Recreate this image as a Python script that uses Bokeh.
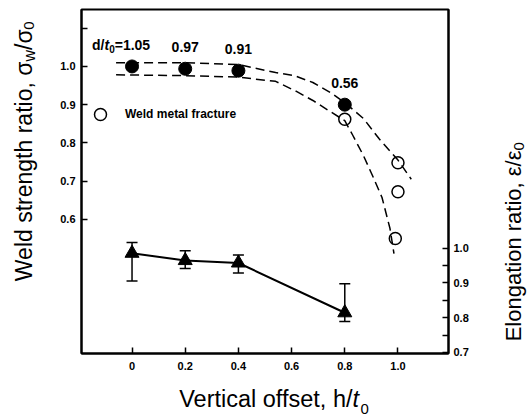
import math
from bokeh.plotting import figure
from bokeh.layouts import row, column
from bokeh.models import (Range1d, LinearAxis, FixedTicker, Label, Whisker, TeeHead,
                          ColumnDataSource, Legend, LegendItem)
from bokeh.embed import file_html
from bokeh.resources import INLINE
from bokeh.core.properties import value

FONT = "Liberation Sans"

# ---------------- data ----------------
offset = [0.0, 0.2, 0.4, 0.8]
strength = [1.0, 0.994, 0.989, 0.90]
d_ratio = ["1.05", "0.97", "0.91", "0.56"]

fracture_x = [0.8, 1.0, 1.0, 0.99]
fracture_y = [0.862, 0.748, 0.672, 0.55]

upper_x = [-0.06, 0.2, 0.4, 0.54, 0.61, 0.68, 0.75, 0.8, 0.87, 0.93, 1.0, 1.05]
upper_y = [1.01, 1.01, 1.005, 0.984, 0.976, 0.958, 0.93, 0.905, 0.864, 0.81, 0.755, 0.705]
lower_x = [-0.06, 0.2, 0.4, 0.54, 0.62, 0.68, 0.75, 0.8, 0.83, 0.87, 0.907, 0.94, 0.97, 0.985]
lower_y = [0.978, 0.976, 0.972, 0.961, 0.934, 0.911, 0.88, 0.858, 0.82, 0.767, 0.71, 0.657, 0.576, 0.51]

elong = [0.985, 0.964, 0.957, 0.814]
elong_hi = [1.016, 0.992, 0.980, 0.897]
elong_lo = [0.905, 0.941, 0.928, 0.789]

x_ticks = [0, 0.2, 0.4, 0.6, 0.8, 1.0]
x_tick_labels = ["0", "0.2", "0.4", "0.6", "0.8", "1.0"]
left_ticks = [0.6, 0.7, 0.8, 0.9, 1.0, 1.1]
left_tick_labels = ["0.6", "0.7", "0.8", "0.9", "1.0", ""]
right_ticks = [0.7, 0.8, 0.9, 1.0]
right_tick_labels = ["0.7", "0.8", "0.9", "1.0"]
right_minor = [0.75, 0.85, 0.95]

# ---------------- main figure ----------------
p = figure(width=440, height=383,
           x_range=Range1d(-0.19, 1.19), y_range=Range1d(0.249, 1.149),
           output_backend="svg", toolbar_location=None,
           min_border_left=33, min_border_right=40, min_border_top=9, min_border_bottom=30,
           background_fill_color="white", border_fill_color="white")
p.extra_y_ranges = {"elong": Range1d(0.697, 1.685)}
p.xgrid.visible = False
p.ygrid.visible = False
p.outline_line_color = "black"
p.outline_line_width = 2


def style_axis(ax):
    ax.axis_line_color = "black"
    ax.axis_line_width = 2
    ax.major_tick_in = 6
    ax.major_tick_out = 0
    ax.minor_tick_in = 6
    ax.minor_tick_out = 0
    ax.major_tick_line_width = 1.5
    ax.minor_tick_line_width = 1.5
    ax.major_label_text_font = FONT
    ax.major_label_text_font_size = "11px"
    ax.major_label_text_font_style = "bold"
    ax.major_label_text_color = "black"


xa = p.xaxis[0]
style_axis(xa)
xa.ticker = FixedTicker(ticks=x_ticks, minor_ticks=[])
xa.major_label_overrides = {t: s for t, s in zip(x_ticks, x_tick_labels)}
xa.major_label_standoff = 8

ya = p.yaxis[0]
style_axis(ya)
ya.ticker = FixedTicker(ticks=left_ticks, minor_ticks=[])
ya.major_label_overrides = {t: s for t, s in zip(left_ticks, left_tick_labels)}
ya.major_label_standoff = 6

ra = LinearAxis(y_range_name="elong")
style_axis(ra)
ra.ticker = FixedTicker(ticks=right_ticks, minor_ticks=right_minor)
ra.major_label_overrides = {t: s for t, s in zip(right_ticks, right_tick_labels)}
ra.major_label_standoff = 5
p.add_layout(ra, "right")

# ---------------- strength data ----------------
dash = dict(line_color="black", line_width=1.5, line_dash="9 5")
p.line(upper_x, upper_y, **dash)
p.line(lower_x, lower_y, **dash)

r_open = p.scatter(fracture_x, fracture_y, marker="circle", size=12,
                   fill_alpha=0, line_color="black", line_width=1.5)
p.scatter(offset, strength, marker="circle", size=13,
          fill_color="black", line_color="black")

# d/t0 annotations
p.text(x=offset[1:], y=strength[1:], text=d_ratio[1:],
       text_align="center", text_baseline="middle", y_offset=-22,
       text_font=value(FONT), text_font_size="14px", text_font_style="bold",
       text_color="black")

lab_common = dict(x=offset[0], y=strength[0], text_font=FONT, text_color="black",
                  text_baseline="middle", text_align="left")
p.add_layout(Label(text="d/", x_offset=-40, y_offset=21, text_font_size="14px",
                   text_font_style="bold", **lab_common))
p.add_layout(Label(text="t", x_offset=-27.6, y_offset=21, text_font_size="14px",
                   text_font_style="bold italic", **lab_common))
p.add_layout(Label(text="0", x_offset=-22.9, y_offset=17, text_font_size="10px",
                   text_font_style="bold", **lab_common))
p.add_layout(Label(text="=" + d_ratio[0], x_offset=-17.3, y_offset=21, text_font_size="14px",
                   text_font_style="bold", **lab_common))

# legend
legend = Legend(items=[LegendItem(label="Weld metal fracture", renderers=[r_open])],
                location=(4, 224), padding=0, margin=0, spacing=0,
                glyph_width=30, glyph_height=30, label_height=30, label_standoff=10,
                border_line_alpha=0, background_fill_alpha=0,
                label_text_font=FONT, label_text_font_size="12px",
                label_text_font_style="bold", label_text_color="black")
p.add_layout(legend, "center")

# ---------------- elongation data ----------------
src = ColumnDataSource(dict(x=offset, y=elong, hi=elong_hi, lo=elong_lo))
p.line("x", "y", source=src, line_color="black", line_width=2, y_range_name="elong")
p.add_layout(Whisker(source=src, base="x", upper="hi", lower="lo", y_range_name="elong",
                     line_color="black", line_width=1.5,
                     upper_head=TeeHead(size=11, line_width=1.5, line_color="black"),
                     lower_head=TeeHead(size=11, line_width=1.5, line_color="black")))
p.scatter("x", "y", source=src, marker="triangle", size=14,
          fill_color="black", line_color="black", y_range_name="elong")


# ---------------- axis titles (rich text pieces in side strips) ----------------
def strip(w, h):
    f = figure(width=w, height=h, x_range=Range1d(0, w), y_range=Range1d(0, h),
               x_axis_type=None, y_axis_type=None, output_backend="svg",
               toolbar_location=None, min_border=0,
               background_fill_color="white", border_fill_color="white")
    f.grid.visible = False
    f.outline_line_color = None
    return f


# left strip: 48 x 383 ; pieces joined at the end of the first sigma
lf = strip(48, 383)
lt = dict(x=23.7, y=325, angle=math.pi / 2, text_font=FONT, text_color="black",
          text_baseline="alphabetic")
lf.add_layout(Label(text="Weld strength ratio, \u03c3", text_align="right",
                    text_font_size="23px", **lt))
lf.add_layout(Label(text="w", text_align="left", x_offset=5,
                    text_font_size="16px", **lt))
lf.add_layout(Label(text="/\u03c3", text_align="left", y_offset=11.6,
                    text_font_size="23px", **lt))
lf.add_layout(Label(text="0", text_align="left", y_offset=31.8, x_offset=5,
                    text_font_size="15px", **lt))

# right strip: 42 x 383 ; pieces joined before the subscript
rf = strip(42, 383)
rt = dict(x=25, y=226, angle=math.pi / 2, text_font=FONT, text_color="black",
          text_baseline="alphabetic")
rf.add_layout(Label(text="Elongation ratio, \u03b5/\u03b5", text_align="right",
                    text_font_size="22px", **rt))
rf.add_layout(Label(text="0", text_align="left", x_offset=5,
                    text_font_size="15px", **rt))

# bottom strip: 530 x 32 ; pieces joined at the end of "h/"
bf = strip(530, 32)
bt = dict(x=352, y=17, text_font=FONT, text_color="black", text_baseline="alphabetic")
bf.add_layout(Label(text="Vertical offset, h/", text_align="right",
                    text_font_size="23.5px", **bt))
bf.add_layout(Label(text="t", text_align="left", text_font_size="23.5px",
                    text_font_style="italic", **bt))
bf.add_layout(Label(text="0", text_align="left", x_offset=8, y_offset=-10,
                    text_font_size="15px", **bt))

layout = column(row(lf, p, rf), bf)

open("out.html", "w").write(file_html(layout, INLINE))
